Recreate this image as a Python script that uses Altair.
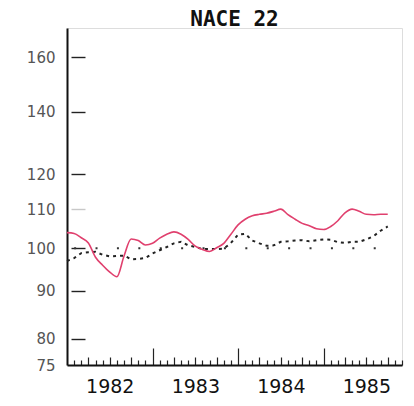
import json
import altair as alt
import pandas as pd

# ---- data ----
months = list(range(46))  # Jan 1982 .. Oct 1985, month index
nace22 = [103.9, 103.7, 102.6, 101.3, 97.8, 95.9, 94.3, 93.2, 98.1, 102.3, 101.9, 100.8,
          101.2, 102.5, 103.5, 104.1, 103.5, 102.2, 100.5, 99.7, 99.2, 100.1, 101.2, 103.5,
          105.9, 107.4, 108.3, 108.7, 109.0, 109.5, 110.1, 108.6, 107.4, 106.3, 105.7, 104.9,
          104.7, 105.5, 107.0, 109.1, 110.1, 109.5, 108.7, 108.6, 108.7, 108.7]
trend = [96.9, 97.6, 98.8, 99.0, 99.1, 98.4, 98.0, 98.1, 98.2, 97.3, 97.4, 97.6,
         98.7, 99.5, 100.3, 101.2, 101.6, 100.7, 100.3, 99.8, 99.8, 99.8, 99.9, 101.3,
         103.4, 103.6, 101.9, 101.2, 100.6, 100.7, 101.6, 101.7, 101.9, 102.0, 101.7, 102.0,
         102.2, 102.1, 101.5, 101.3, 101.6, 101.6, 102.2, 103.0, 104.4, 105.5]
year_labels = ["1982", "1983", "1984", "1985"]
year_label_pos = [6, 18, 30, 42]
month_ticks = list(range(1, 48))
y_labels = [75, 80, 90, 100, 110, 120, 140, 160]
y_ticks = [80, 90, 100, 110, 120, 140, 160]
ref_x = [1, 46]
ref_y = [100, 100]

W, H = 335, 337

df = pd.DataFrame({"m": months, "nace": nace22, "trend": trend})
ref_df = pd.DataFrame({"m": ref_x, "v": ref_y})

xscale = alt.Scale(domain=[0, 47], nice=False, zero=False)
yscale = alt.Scale(type="log", domain=[75, 172], nice=False)

label_expr = json.dumps(year_labels) + "[floor(datum.value / 12)]"

ref = alt.Chart(ref_df).mark_line(
    color="#333", strokeWidth=2, strokeDash=[2, 19.4], strokeCap="butt"
).encode(
    x=alt.X("m:Q", scale=xscale, axis=None),
    y=alt.Y("v:Q", scale=yscale, axis=None),
)

black = alt.Chart(df).mark_line(
    color="#222", strokeWidth=2, strokeDash=[3, 4], strokeCap="butt"
).encode(
    x=alt.X("m:Q", scale=xscale, axis=alt.Axis(
        orient="top", offset=-H, values=month_ticks, labels=False, domain=False,
        grid=False, title=None, tickColor="#222", tickWidth=1.2,
        tickSize={"condition": [{"test": "datum.value % 12 == 0", "value": 17},
                                {"test": "datum.value % 3 == 0", "value": 8}],
                  "value": 5})),
    y=alt.Y("trend:Q", scale=yscale, axis=alt.Axis(
        orient="right", offset=-(W - 4), values=y_ticks, labels=False, domain=False,
        grid=False, title=None, tickSize=14, tickWidth=1.4,
        tickColor={"condition": {"test": "datum.value == 110", "value": "#c8c8c8"},
                   "value": "#222"})),
)

red = alt.Chart(df).mark_line(
    color="#e0406e", strokeWidth=1.6, interpolate="monotone"
).encode(
    x=alt.X("m:Q", scale=xscale, axis=alt.Axis(
        orient="bottom", values=year_label_pos, labelExpr=label_expr, ticks=False,
        tickSize=0, grid=False, title=None, domainColor="#111", domainWidth=2,
        labelFont="DejaVu Sans", labelFontSize=19, labelColor="#111", labelPadding=12,
        labelAlign="center")),
    y=alt.Y("nace:Q", scale=yscale, axis=alt.Axis(
        orient="left", values=y_labels, ticks=False, tickSize=0, grid=False, title=None,
        domainColor="#111", domainWidth=2, labelFont="DejaVu Sans", labelFontSize=15,
        labelColor="#555", labelPadding=12)),
)

chart = alt.layer(ref, black, red).resolve_axis(
    x="independent", y="independent"
).properties(
    width=W, height=H,
    title=alt.TitleParams("NACE 22", font="DejaVu Sans Mono", fontSize=21,
                          fontWeight="bold", color="#111", anchor="middle",
                          frame="group", baseline="alphabetic", offset=3, dy=22),
    padding={"left": 59, "top": 20, "right": 4, "bottom": 33},
    autosize=alt.AutoSizeParams(type="none"),
).configure_view(stroke=None).configure(background="white")

chart.save("out.html", embed_options={"renderer": "svg", "actions": False})
